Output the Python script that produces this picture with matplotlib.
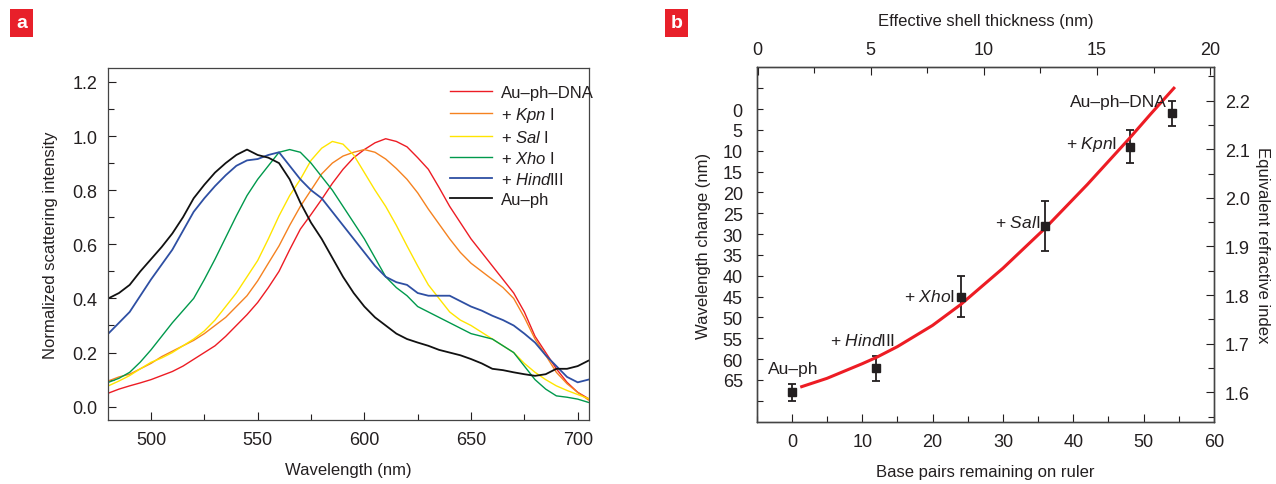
import numpy as np
import matplotlib
matplotlib.use('Agg')
import matplotlib.pyplot as plt
from matplotlib.ticker import MultipleLocator

plt.rcParams['font.family'] = ['Liberation Sans', 'DejaVu Sans']
plt.rcParams['mathtext.fontset'] = 'custom'
plt.rcParams['mathtext.rm'] = 'Liberation Sans'
plt.rcParams['mathtext.it'] = 'Liberation Sans:italic'
plt.rcParams['font.size'] = 13
plt.rcParams['text.color'] = '#231f20'
plt.rcParams['axes.labelcolor'] = '#231f20'
plt.rcParams['xtick.color'] = '#231f20'
plt.rcParams['ytick.color'] = '#231f20'

# --- panel a: scattering spectra (read every 5 nm) ---
wavelength = list(range(480, 710, 5))

au_ph_dna = [0.05, 0.065, 0.077, 0.088, 0.10, 0.115, 0.13, 0.15, 0.175, 0.20,
             0.225, 0.26, 0.30, 0.34, 0.385, 0.44, 0.50, 0.58, 0.656, 0.71,
             0.766, 0.825, 0.877, 0.92, 0.95, 0.975, 0.99, 0.98, 0.96, 0.92,
             0.877, 0.81, 0.74, 0.68, 0.62, 0.57, 0.52, 0.47, 0.42, 0.35,
             0.26, 0.20, 0.14, 0.09, 0.053, 0.03]
kpn = [0.095, 0.11, 0.12, 0.14, 0.16, 0.185, 0.205, 0.225, 0.245, 0.27,
       0.30, 0.33, 0.37, 0.41, 0.465, 0.53, 0.594, 0.67, 0.74, 0.80,
       0.86, 0.90, 0.926, 0.94, 0.95, 0.94, 0.915, 0.88, 0.84, 0.79,
       0.73, 0.675, 0.62, 0.57, 0.53, 0.50, 0.47, 0.44, 0.40, 0.33,
       0.25, 0.19, 0.127, 0.085, 0.053, 0.025]
sal = [0.077, 0.095, 0.115, 0.14, 0.164, 0.18, 0.20, 0.225, 0.25, 0.28,
       0.32, 0.37, 0.42, 0.48, 0.54, 0.62, 0.705, 0.78, 0.84, 0.91,
       0.955, 0.98, 0.97, 0.93, 0.865, 0.80, 0.74, 0.67, 0.594, 0.52,
       0.45, 0.40, 0.35, 0.32, 0.30, 0.275, 0.25, 0.225, 0.20, 0.16,
       0.127, 0.10, 0.077, 0.06, 0.045, 0.03]
xho = [0.09, 0.105, 0.127, 0.165, 0.21, 0.26, 0.31, 0.355, 0.40, 0.47,
       0.545, 0.625, 0.705, 0.78, 0.84, 0.89, 0.94, 0.95, 0.94, 0.90,
       0.85, 0.80, 0.74, 0.68, 0.62, 0.55, 0.48, 0.44, 0.41, 0.37,
       0.35, 0.33, 0.31, 0.29, 0.27, 0.26, 0.25, 0.225, 0.20, 0.15,
       0.10, 0.065, 0.04, 0.035, 0.028, 0.016]
hind = [0.27, 0.31, 0.35, 0.41, 0.47, 0.525, 0.58, 0.65, 0.72, 0.77,
        0.815, 0.855, 0.89, 0.91, 0.915, 0.93, 0.94, 0.89, 0.84, 0.80,
        0.77, 0.72, 0.67, 0.62, 0.57, 0.52, 0.48, 0.46, 0.45, 0.42,
        0.41, 0.41, 0.41, 0.39, 0.37, 0.355, 0.336, 0.32, 0.30, 0.27,
        0.237, 0.19, 0.15, 0.11, 0.09, 0.10]
au_ph = [0.40, 0.42, 0.45, 0.50, 0.545, 0.59, 0.64, 0.70, 0.77, 0.82,
         0.865, 0.90, 0.93, 0.95, 0.93, 0.92, 0.90, 0.84, 0.754, 0.68,
         0.62, 0.55, 0.48, 0.42, 0.37, 0.33, 0.30, 0.27, 0.25, 0.237,
         0.225, 0.21, 0.20, 0.19, 0.176, 0.16, 0.14, 0.135, 0.127, 0.12,
         0.114, 0.12, 0.14, 0.14, 0.15, 0.17]

spectra_labels = ['Au\u2013ph\u2013DNA', r'+ $\mathit{Kpn}$ I', r'+ $\mathit{Sal}$ I',
                  r'+ $\mathit{Xho}$ I', r'+ $\mathit{Hind}$III', 'Au\u2013ph']
spectra_colors = ['#ed1c24', '#f58220', '#ffe500', '#00994c', '#2e4fa3', '#111111']

# --- panel b: wavelength change vs base pairs ---
base_pairs = [0, 12, 24, 36, 48, 54]
shift = [68, 62.2, 45, 28, 9, 1]
shift_err = [2, 3, 5, 6, 4, 3]
point_labels = ['Au\u2013ph', r'+ $\mathit{Hind}$III', r'+ $\mathit{Xho}$I',
                r'+ $\mathit{Sal}$I', r'+ $\mathit{Kpn}$I', 'Au\u2013ph\u2013DNA']

fit_x = [1.4, 5, 10, 12, 15, 20, 24, 30, 36, 42, 48, 51, 54.3]
fit_y = [66.6, 64.6, 61.1, 59.6, 57.0, 51.9, 46.9, 38.2, 28.6, 18.1, 7.0, 1.2, -5.0]

fig = plt.figure(figsize=(12.76, 4.85), dpi=100)

# panel a
ax1 = fig.add_axes([0.0849, 0.1326, 0.3767, 0.7244])
for ys, lab, col in zip([au_ph_dna, kpn, sal, xho, hind, au_ph], spectra_labels, spectra_colors):
    lw = 1.3 if col in ('#111111', '#2e4fa3') else 1.0
    ax1.plot(wavelength, ys, color=col, lw=lw, label=lab)
ax1.set_xlim(480, 705.3)
ax1.set_ylim(-0.048, 1.25)
ax1.xaxis.set_major_locator(MultipleLocator(50))
ax1.xaxis.set_minor_locator(MultipleLocator(25))
ax1.yaxis.set_major_locator(MultipleLocator(0.2))
ax1.yaxis.set_minor_locator(MultipleLocator(0.1))
ax1.yaxis.set_major_formatter(plt.FuncFormatter(lambda v, p: f'{v:.1f}'))
ax1.tick_params(which='both', direction='in', width=0.8, pad=8)
ax1.tick_params(which='major', length=6)
ax1.tick_params(which='minor', length=4)
ax1.set_xlabel('Wavelength (nm)', labelpad=10, fontsize=12)
ax1.set_ylabel('Normalized scattering intensity', labelpad=10, fontsize=12)
ax1.legend(loc='upper left', bbox_to_anchor=(0.68, 0.995), frameon=False,
           handlelength=2.5, labelspacing=0.3, handletextpad=0.55, fontsize=12)
for s in ax1.spines.values():
    s.set_linewidth(0.9)
    s.set_color('#444444')

# panel b
ax2 = fig.add_axes([0.593, 0.1285, 0.3584, 0.7306])
ax2.errorbar(base_pairs, shift, yerr=shift_err, fmt='s', color='#231f20', ms=6,
             capsize=3, elinewidth=1.3, capthick=1.3)
ax2.plot(fit_x, fit_y, color='#ed1c24', lw=2.2)
ax2.set_xlim(-5, 60)
ax2.set_ylim(75, -10)
ax2.xaxis.set_major_locator(MultipleLocator(10))
ax2.xaxis.set_minor_locator(MultipleLocator(5))
ax2.set_yticks(list(range(-5, 75, 5)))
ax2.set_yticklabels([str(v) if 0 <= v <= 65 else '' for v in range(-5, 75, 5)])
ax2.tick_params(which='both', direction='in', width=0.8)
ax2.tick_params(axis='y', which='major', length=4, pad=10)
ax2.tick_params(axis='x', which='major', length=6, pad=8)
ax2.tick_params(axis='x', which='minor', length=4)
ax2.set_xlabel('Base pairs remaining on ruler', labelpad=10, fontsize=12)
ax2.set_ylabel('Wavelength change (nm)', labelpad=8, fontsize=12)

text_pos = [(0.2, 62.2, 'center'), (10.0, 55.4, 'center'), (23.2, 44.8, 'right'),
            (35.3, 27.2, 'right'), (46.2, 8.2, 'right'), (53.3, -1.8, 'right')]
for lab, (tx, ty, ha) in zip(point_labels, text_pos):
    ax2.text(tx, ty, lab, ha=ha, va='center', fontsize=12.5)

axr = ax2.twinx()
axr.set_ylim(1.5396, 2.2686)
axr.yaxis.set_major_locator(MultipleLocator(0.1))
axr.yaxis.set_minor_locator(MultipleLocator(0.05))
axr.tick_params(which='both', direction='in', width=0.8, pad=8)
axr.tick_params(which='major', length=6)
axr.tick_params(which='minor', length=4)
axr.set_ylabel('Equivalent refractive index', rotation=-90, labelpad=14, fontsize=12)

axt = ax2.twiny()
axt.set_xlim(-0.04, 20.17)
axt.xaxis.set_major_locator(MultipleLocator(5))
axt.xaxis.set_minor_locator(MultipleLocator(2.5))
axt.tick_params(which='both', direction='in', width=0.8, pad=7)
axt.tick_params(which='major', length=6)
axt.tick_params(which='minor', length=4)
axt.set_xlabel('Effective shell thickness (nm)', labelpad=11, fontsize=12)

for a in (ax2, axr, axt):
    for s in a.spines.values():
        s.set_linewidth(0.9)
        s.set_color('#444444')

# panel letters
for px, letter in [(21.5 / 1276, 'a'), (676.3 / 1276, 'b')]:
    fig.text(px, 1 - 24 / 485, letter, color='white', fontsize=14, fontweight='bold',
             ha='center', va='center', family='Liberation Sans',
             bbox=dict(boxstyle='square,pad=0.3', fc='#e8202a', ec='none'))

fig.savefig('out.png', dpi=100)
